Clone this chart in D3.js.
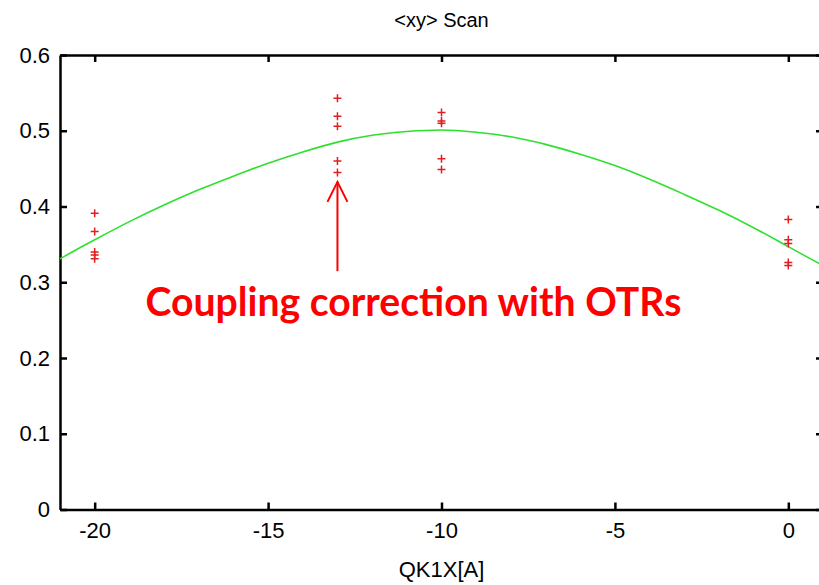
<!DOCTYPE html>
<html>
<head>
<meta charset="utf-8">
<script src="https://cdn.jsdelivr.net/npm/d3@7"></script>
<style>
  body { margin: 0; background: #fff; }
  .tick text { font-family: "Liberation Sans", Arial, sans-serif; }
</style>
</head>
<body>
<div id="chart"></div>
<script>
// scan settings (QK1X current) and measured <xy> values
var scanX = [-20, -13, -10, 0];
var measured = [
  [0.391, 0.367, 0.340, 0.336, 0.331],
  [0.543, 0.519, 0.506, 0.460, 0.445],
  [0.524, 0.513, 0.510, 0.463, 0.449],
  [0.383, 0.356, 0.351, 0.326, 0.322]
];

// fitted curve
var fitX = [-21, -20, -19, -18, -17, -16, -15, -14, -13, -12, -11, -10, -9, -8, -7, -6, -5, -4, -3, -2, -1, 0, 1];
var fitY = [0.331, 0.356, 0.380, 0.402, 0.422, 0.440, 0.457, 0.472, 0.485, 0.494, 0.499, 0.501, 0.498, 0.492, 0.482, 0.469, 0.454, 0.436, 0.416, 0.395, 0.372, 0.347, 0.322];

var xTicks = [-20, -15, -10, -5, 0];
var yTicks = [0, 0.1, 0.2, 0.3, 0.4, 0.5, 0.6];

var svgWidth = 819;
var svgHeight = 585;
var margin = { top: 55, left: 60 };
var plotRight = 823;   // right frame falls just outside the picture
var plotBottom = 509.5;

var svg = d3.select("#chart")
  .append("svg")
  .attr("width", svgWidth)
  .attr("height", svgHeight);

var x = d3.scaleLinear().domain([-21, 1]).range([margin.left, plotRight]);
var y = d3.scaleLinear().domain([0, 0.6]).range([plotBottom, margin.top]);

var font = "'Liberation Sans', Arial, sans-serif";

// axes with inward ticks (plain hyphen for negatives, as in the original)
var bottomAxis = d3.axisBottom(x).tickValues(xTicks).tickSizeInner(-7).tickSizeOuter(0).tickPadding(13)
  .tickFormat(function(d) { return String(d); });
var topAxis = d3.axisTop(x).tickValues(xTicks).tickSizeInner(-7).tickSizeOuter(0).tickFormat("");
var leftAxis = d3.axisLeft(y).tickValues(yTicks).tickSizeInner(-7).tickSizeOuter(0).tickPadding(10)
  .tickFormat(function(d) { return d === 0 ? "0" : d.toFixed(1); });
var rightAxis = d3.axisRight(y).tickValues(yTicks).tickSizeInner(-7).tickSizeOuter(0).tickFormat("");

function styleAxis(g) {
  g.select(".domain").attr("stroke", "#000").attr("stroke-width", 2.5);
  g.selectAll(".tick line").attr("stroke", "#000").attr("stroke-width", 2.5);
  g.selectAll(".tick text").attr("font-size", "22px").attr("fill", "#000");
}

svg.append("g").attr("transform", "translate(0," + plotBottom + ")").call(bottomAxis).call(styleAxis);
svg.append("g").attr("transform", "translate(0," + margin.top + ")").call(topAxis).call(styleAxis);
svg.append("g").attr("transform", "translate(" + margin.left + ",0)").call(leftAxis).call(styleAxis);
svg.append("g").attr("transform", "translate(" + plotRight + ",0)").call(rightAxis).call(styleAxis);

// fitted curve
var line = d3.line()
  .x(function(d, i) { return x(fitX[i]); })
  .y(function(d) { return y(d); })
  .curve(d3.curveMonotoneX);

svg.append("path")
  .datum(fitY)
  .attr("d", line)
  .attr("fill", "none")
  .attr("stroke", "#2ee02e")
  .attr("stroke-width", 1.6);

// measured points as + markers
var pts = [];
scanX.forEach(function(sx, i) {
  measured[i].forEach(function(v) { pts.push({ x: sx, y: v }); });
});

svg.selectAll(".pt")
  .data(pts)
  .enter()
  .append("path")
  .attr("class", "pt")
  .attr("transform", function(d) { return "translate(" + x(d.x) + "," + y(d.y) + ")"; })
  .attr("d", "M-4,0H4M0,-4V4")
  .attr("stroke", "#e02020")
  .attr("stroke-width", 1.5)
  .attr("fill", "none");

// annotation arrow
var ax = x(-13);
var tipY = y(0.4325);
svg.append("line")
  .attr("x1", ax).attr("x2", ax)
  .attr("y1", y(0.3146)).attr("y2", tipY)
  .attr("stroke", "#ff0000").attr("stroke-width", 2);
svg.append("path")
  .attr("d", "M" + (ax - 10) + "," + (tipY + 20) + "L" + ax + "," + tipY + "L" + (ax + 10) + "," + (tipY + 20))
  .attr("fill", "none")
  .attr("stroke", "#ff0000")
  .attr("stroke-width", 2);

svg.append("text")
  .attr("x", x(-10.81))
  .attr("y", y(0.255))
  .attr("text-anchor", "middle")
  .attr("font-family", "Lato, 'Open Sans', sans-serif")
  .attr("font-weight", "bold")
  .attr("font-size", "41px")
  .attr("fill", "#ff0000")
  .attr("textLength", 536)
  .attr("lengthAdjust", "spacingAndGlyphs")
  .text("Coupling correction with OTRs");

// title and axis label
svg.append("text")
  .attr("x", (margin.left + plotRight) / 2)
  .attr("y", 27)
  .attr("text-anchor", "middle")
  .attr("font-family", font)
  .attr("font-size", "20px")
  .text("<xy> Scan");

svg.append("text")
  .attr("x", (margin.left + plotRight) / 2)
  .attr("y", 577)
  .attr("text-anchor", "middle")
  .attr("font-family", font)
  .attr("font-size", "22px")
  .text("QK1X[A]");
</script>
</body>
</html>
